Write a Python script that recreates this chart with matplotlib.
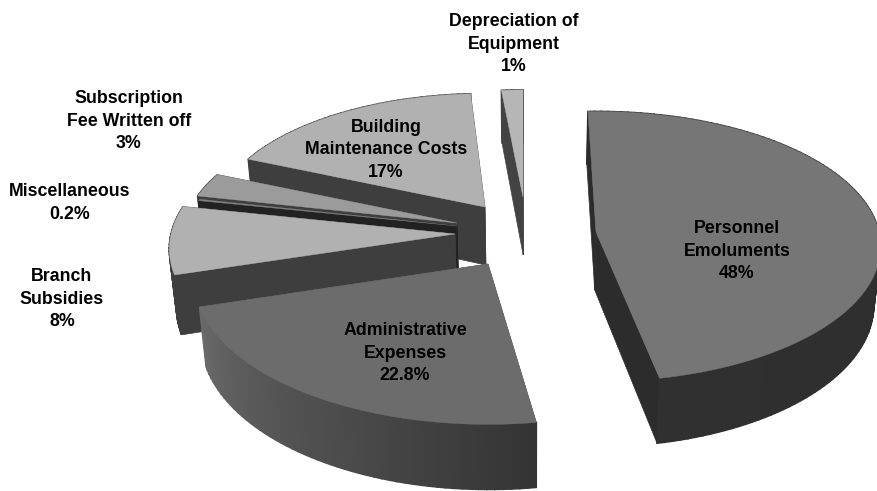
import numpy as np
import matplotlib
matplotlib.use("Agg")
import matplotlib.pyplot as plt

plt.rcParams['font.family'] = ['Liberation Sans', 'DejaVu Sans']

# slices, clockwise from the top
names = ["Personnel\nEmoluments\n48%", "Administrative\nExpenses\n22.8%", "Branch\nSubsidies\n8%",
         "Miscellaneous\n0.2%", "Subscription\nFee Written off\n3%",
         "Building\nMaintenance Costs\n17%", "Depreciation of\nEquipment\n1%"]
shares = [48, 22.8, 8, 0.2, 3, 17, 1]

# where each exploded slice ends up
apex_x = [596, 488, 455, 457, 457, 485, 523]
apex_y = [232, 264, 234, 226, 223, 207, 197]
radius = [283, 292, 284, 270, 272, 269, 254]
squash = [0.472, 0.49, 0.48, 0.467, 0.467, 0.467, 0.467]
# small nudges for the chart's skewed projection
turn_start = [0, -0.5, 0, 0, 0, 0, 0]
turn_end = [2.6, 0, 0, 0, 0, -2, -1.8]

top_col = ["#767676", "#6c6c6c", "#b1b1b1", "#808080", "#9b9b9b", "#b1b1b1", "#b6b6b6"]
cut_col = ["#2c2c2c", "#555555", "#3e3e3e", "#222222", "#3e3e3e", "#3e3e3e", "#434343"]
side_a = ["#2c2c2c", "#343434", "#3e3e3e", "#222222", "#3e3e3e", "#3e3e3e", "#434343"]
side_b = ["#303030", "#6a6a6a", "#3e3e3e", "#222222", "#3e3e3e", "#3e3e3e", "#434343"]

label_x = [737, 405, 62, 70, 129, 386, 514]
label_y = [251, 353, 299, 203, 121, 150, 44]

start = 91.8
persp = 0.108
depth = 58
vanish_x = 530
taper = 0.02


def project(ang, r, cx, cy, sq, drop=0.0):
    a = np.radians(ang)
    k = 1 / (1 + persp * np.sin(a))
    x = cx + r * k * np.cos(a)
    if drop:
        x = x + (vanish_x - x) * taper
    return x, cy - sq * r * k * np.sin(a) + drop * k


def grey(c):
    return int(c[1:3], 16)


fig = plt.figure(figsize=(8.78, 4.91), dpi=100)
ax = fig.add_axes([0, 0, 1, 1])
ax.set_xlim(0, 878)
ax.set_ylim(491, 0)
ax.axis("off")

# angles of every slice
ends = start - np.cumsum(shares) * 3.6
starts = np.concatenate([[start], ends[:-1]])

# back slices first, so the nearer ones cover them
for i in [6, 5, 4, 3, 2, 1, 0]:
    t1 = starts[i] + turn_start[i]
    t2 = ends[i] + turn_end[i]
    r, cx, cy, sq = radius[i], apex_x[i], apex_y[i], squash[i]
    th = np.linspace(t1, t2, max(int(abs(t1 - t2) / 1.5) + 2, 3))
    x, y = project(th, r, cx, cy, sq)
    xb, yb = project(th, r, cx, cy, sq, depth)
    bottom_x = cx + (vanish_x - cx) * taper
    bottom_y = cy + depth

    # the two flat cut faces
    for j in [0, -1]:
        ax.fill([cx, x[j], xb[j], bottom_x], [cy, y[j], yb[j], bottom_y], color=cut_col[i], lw=0.5)

    # outer rim, shaded along the arc
    ga, gb = grey(side_a[i]), grey(side_b[i])
    for j in range(len(th) - 1):
        g = (ga + (gb - ga) * j / (len(th) - 1)) / 255
        ax.fill([x[j], x[j + 1], xb[j + 1], xb[j]], [y[j], y[j + 1], yb[j + 1], yb[j]],
                color=(g, g, g), lw=1.2)

    # top face
    ax.fill(np.r_[cx, x], np.r_[cy, y], color=top_col[i], lw=0.3)

for i in range(len(names)):
    ax.text(label_x[i], label_y[i], names[i], ha="center", va="center", fontsize=12.8,
            fontweight="bold", color="black", linespacing=1.45)

fig.savefig("out.png", dpi=100)
